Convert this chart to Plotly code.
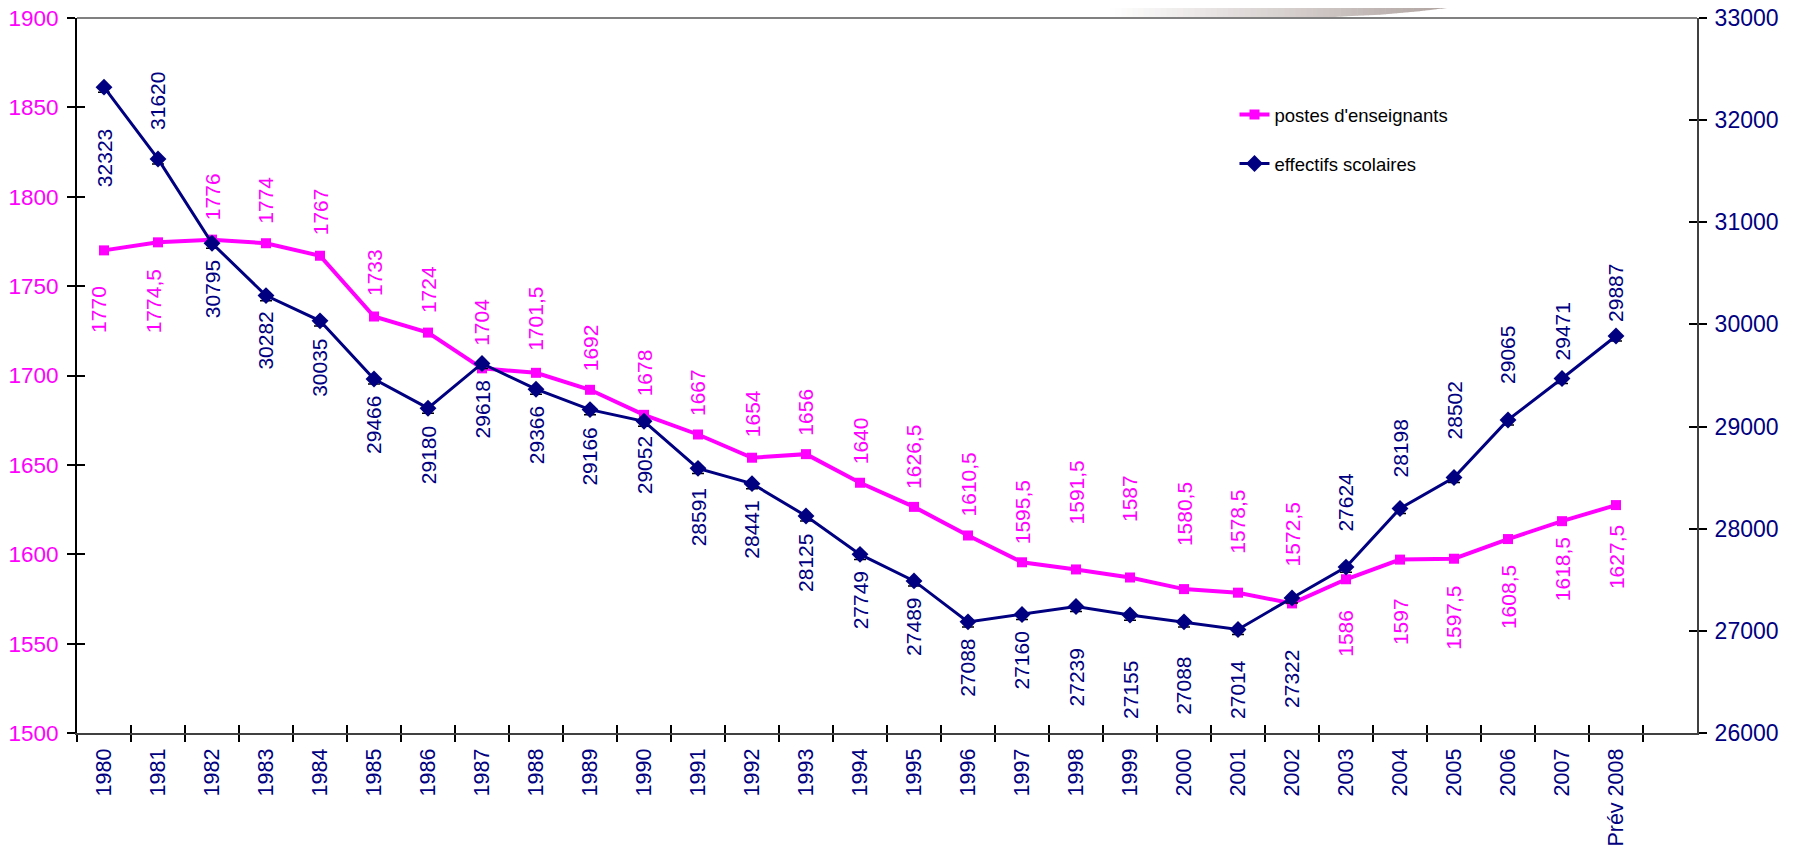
import plotly.graph_objects as go

# ---------------- data ----------------
years = ["1980", "1981", "1982", "1983", "1984", "1985", "1986", "1987", "1988", "1989",
         "1990", "1991", "1992", "1993", "1994", "1995", "1996", "1997", "1998", "1999",
         "2000", "2001", "2002", "2003", "2004", "2005", "2006", "2007", "Prév 2008"]
postes = [1770, 1774.5, 1776, 1774, 1767, 1733, 1724, 1704, 1701.5, 1692,
          1678, 1667, 1654, 1656, 1640, 1626.5, 1610.5, 1595.5, 1591.5, 1587,
          1580.5, 1578.5, 1572.5, 1586, 1597, 1597.5, 1608.5, 1618.5, 1627.5]
effectifs = [32323, 31620, 30795, 30282, 30035, 29466, 29180, 29618, 29366, 29166,
             29052, 28591, 28441, 28125, 27749, 27489, 27088, 27160, 27239, 27155,
             27088, 27014, 27322, 27624, 28198, 28502, 29065, 29471, 29887]
left_ticks = [1500, 1550, 1600, 1650, 1700, 1750, 1800, 1850, 1900]
right_ticks = [26000, 27000, 28000, 29000, 30000, 31000, 32000, 33000]

# label placement (pixel gap from marker; + above, - below)
postes_gap = [-35, -26, 18, 18, 19, 19, 18, 21, 21, 17, 17, 17, 19, 17, 17, 17, 18, 17,
              44, 54, 42, 38, 36, -30, -38, -26, -25, -15, -19]
effectifs_gap = [-41, 28, -16, -15, -17, -16, -17, -16, -16, -17, -14, -19, -16, -17, -16,
                 -16, -16, -16, -41, -45, -34, -30, -51, 34, 30, 37, 35, 17, 13]

MAGENTA = "#FF00FF"
NAVY = "#000080"
FONT = "Liberation Sans, Arial, sans-serif"

WIN_W, WIN_H = 1793, 851
OFF = 8                                   # default page body margin
PL, PT, PW, PH = 77, 18, 1620, 715        # plot area in window pixels
W, H = WIN_W - OFF, WIN_H - OFF
L, T = PL - OFF, PT - OFF
R, B = W - L - PW, H - T - PH


def fr(v):
    return ("%g" % v).replace(".", ",")


fig = go.Figure()

fig.add_trace(go.Scatter(
    x=years, y=postes, name="postes d'enseignants", mode="lines+markers",
    line=dict(color=MAGENTA, width=4),
    marker=dict(symbol="square", size=10, color=MAGENTA),
    legendgroup="a", yaxis="y", xaxis="x"))

fig.add_trace(go.Scatter(
    x=years, y=effectifs, name="effectifs scolaires", mode="lines+markers",
    line=dict(color=NAVY, width=3),
    marker=dict(symbol="diamond", size=13, color=NAVY),
    error_y=dict(type="constant", symmetric=False, value=0, valueminus=50,
                 color="black", thickness=1.5, width=6),
    legendgroup="b", yaxis="y2", xaxis="x"))

# dummy traces to activate the tick-overlay axes
fig.add_trace(go.Scatter(x=[years[0]], y=[None], xaxis="x2", yaxis="y3", mode="markers",
                         showlegend=False, hoverinfo="skip", opacity=0))
fig.add_trace(go.Scatter(x=[years[0]], y=[None], xaxis="x", yaxis="y4", mode="markers",
                         showlegend=False, hoverinfo="skip", opacity=0))

annotations = []
for i, (v, g) in enumerate(zip(postes, postes_gap)):
    annotations.append(dict(x=i, y=v, xref="x", yref="y", text=fr(v), showarrow=False,
                            textangle=-90, font=dict(family=FONT, size=21, color=MAGENTA),
                            xanchor="center", yanchor="bottom" if g > 0 else "top",
                            yshift=g, xshift=-5 if i < 2 else 0, borderpad=0))
for i, (v, g) in enumerate(zip(effectifs, effectifs_gap)):
    annotations.append(dict(x=i, y=v, xref="x", yref="y2", text=fr(v), showarrow=False,
                            textangle=-90, font=dict(family=FONT, size=21, color=NAVY),
                            xanchor="center", yanchor="bottom" if g > 0 else "top",
                            yshift=g, borderpad=0))


# decorative gradient banner at top right (window pixel geometry -> paper)
def px2paper(px, py):
    return (px - PL) / PW, (PT + PH - py) / PH


edge_pts = [(1110, 17), (1333, 17), (1383, 14.5), (1417, 11.5), (1447, 8)]


def edge_y(x):
    for (x0, y0), (x1, y1) in zip(edge_pts[:-1], edge_pts[1:]):
        if x0 <= x <= x1:
            return y0 + (y1 - y0) * (x - x0) / (x1 - x0)
    return 8


shapes = []
N = 60
xs0, xs1 = 1110, 1447
c0, c1 = (255, 255, 255), (176, 164, 160)
for i in range(N):
    xa = xs0 + (xs1 - xs0) * i / N
    xb = min(xs0 + (xs1 - xs0) * (i + 1) / N + 0.6, xs1)
    t = (i + 0.5) / N
    col = "rgb(%d,%d,%d)" % tuple(round(a + (b - a) * t) for a, b in zip(c0, c1))
    p = [px2paper(xa, OFF), px2paper(xb, OFF), px2paper(xb, edge_y(xb)), px2paper(xa, edge_y(xa))]
    path = "M %f %f L %f %f L %f %f L %f %f Z" % (p[0][0], p[0][1], p[1][0], p[1][1],
                                                  p[2][0], p[2][1], p[3][0], p[3][1])
    shapes.append(dict(type="path", xref="paper", yref="paper", path=path,
                       fillcolor=col, line=dict(width=0), layer="above"))

# top border
shapes.append(dict(type="line", xref="paper", yref="paper", x0=0, x1=1, y0=1, y1=1,
                   line=dict(color="#808080", width=2)))

fig.update_layout(
    width=W, height=H,
    margin=dict(l=L, r=R, t=T, b=B, autoexpand=False),
    paper_bgcolor="white", plot_bgcolor="white",
    font=dict(family=FONT),
    showlegend=True,
    legend=dict(x=0.7145, y=0.891, xanchor="left", yanchor="top",
                font=dict(family=FONT, size=18.5, color="black"),
                bgcolor="rgba(0,0,0,0)", tracegroupgap=22, traceorder="grouped"),
    xaxis=dict(type="category", categoryorder="array", categoryarray=years,
               range=[-0.5, 29.5], tickson="boundaries", ticks="outside", ticklen=7,
               tickcolor="black", tickwidth=1.5, tickangle=-90,
               tickfont=dict(family=FONT, size=21.5, color=NAVY), ticklabelstandoff=5,
               showline=True, linecolor="#404040", linewidth=2, showgrid=False,
               zeroline=False, anchor="y", automargin=False, ticklabeloverflow="allow"),
    xaxis2=dict(type="category", categoryorder="array", categoryarray=years,
                range=[-0.5, 29.5], tickson="boundaries", ticks="inside", ticklen=8,
                tickcolor="black", tickwidth=1.5, showticklabels=False, showline=False,
                showgrid=False, zeroline=False, overlaying="x", anchor="y", automargin=False),
    yaxis=dict(range=[1500, 1900], tickvals=left_ticks, ticks="outside", ticklen=8,
               tickcolor="black", tickwidth=1.5,
               tickfont=dict(family=FONT, size=22.5, color=MAGENTA),
               showline=True, linecolor="black", linewidth=2, showgrid=False,
               zeroline=False, ticklabelstandoff=4, automargin=False,
               ticklabeloverflow="allow"),
    yaxis2=dict(range=[26000, 33000], tickvals=right_ticks, ticks="outside", ticklen=8,
                tickcolor="black", tickwidth=1.5, overlaying="y", side="right",
                tickformat="d",
                tickfont=dict(family=FONT, size=23, color=NAVY),
                showline=True, linecolor="#404040", linewidth=2, showgrid=False,
                zeroline=False, ticklabelstandoff=3, automargin=False,
                ticklabeloverflow="allow"),
    yaxis3=dict(range=[1500, 1900], tickvals=left_ticks, ticks="inside", ticklen=8,
                tickcolor="black", tickwidth=1.5, showticklabels=False, showline=False,
                showgrid=False, zeroline=False, overlaying="y", side="left", anchor="x2",
                automargin=False),
    yaxis4=dict(range=[26000, 33000], tickvals=right_ticks, ticks="inside", ticklen=8,
                tickcolor="black", tickwidth=1.5, showticklabels=False, showline=False,
                showgrid=False, zeroline=False, overlaying="y", side="right",
                automargin=False),
    annotations=annotations,
    shapes=shapes,
)

fig.write_html("out.html")
